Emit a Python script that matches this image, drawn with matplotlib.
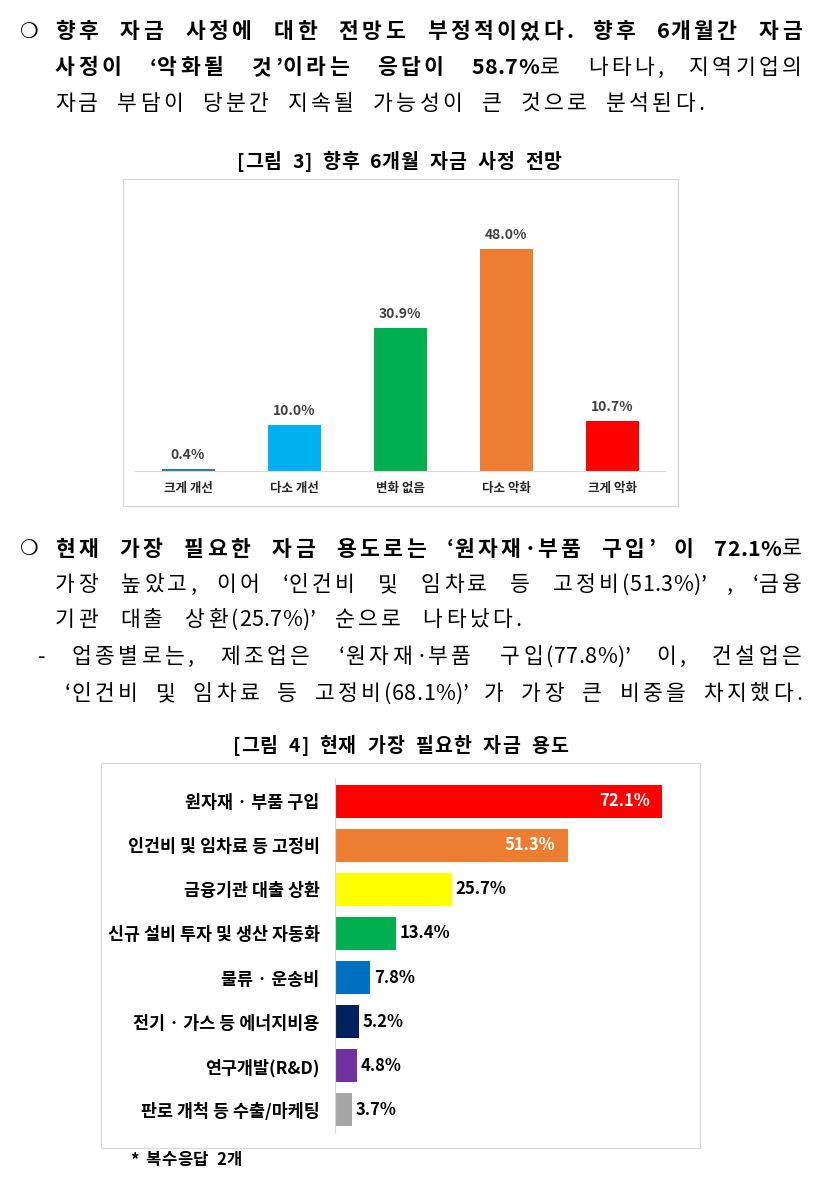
import matplotlib
matplotlib.use('Agg')
import matplotlib.pyplot as plt
from matplotlib.patches import Rectangle

plt.rcParams['font.family'] = ['Noto Sans CJK KR', 'DejaVu Sans']

W, H = 831, 1191

# [그림 3] data
outlook_labels = ['크게 개선', '다소 개선', '변화 없음', '다소 악화', '크게 악화']
outlook_values = [0.4, 10.0, 30.9, 48.0, 10.7]
outlook_colors = ['#2E75B6', '#00B0F0', '#00B050', '#ED7D31', '#FF0000']

# [그림 4] data
use_labels = ['원자재 · 부품 구입', '인건비 및 임차료 등 고정비', '금융기관 대출 상환',
              '신규 설비 투자 및 생산 자동화', '물류 · 운송비', '전기 · 가스 등 에너지비용',
              '연구개발(R&D)', '판로 개척 등 수출/마케팅']
use_values = [72.1, 51.3, 25.7, 13.4, 7.8, 5.2, 4.8, 3.7]
use_colors = ['#FF0000', '#ED7D31', '#FFFF00', '#00B050', '#0070C0', '#002060', '#7030A0', '#A6A6A6']

fig = plt.figure(figsize=(W / 100, H / 100), dpi=100)
renderer = fig.canvas.get_renderer()


def fx(x):
    return x / W


def fy(y):
    return 1 - y / H


def put_line(words, y, x0, x1, size=15.5, track=3.5, track_ascii=0.3):
    # words: list of words, each a list of (text, bold) pieces; spread between x0 and x1
    items = []
    for w in words:
        row = []
        for s, b in w:
            for ch in s:
                t = fig.text(fx(x0), fy(y), ch, fontsize=size, va='center', ha='left',
                             fontweight='bold' if b else 'normal', color='black')
                tr = track if ord(ch) > 0x3000 else track_ascii
                row.append((t, t.get_window_extent(renderer).width + tr))
        items.append(row)
    total = sum(wd for row in items for _, wd in row)
    gap = (x1 - x0 - total) / max(len(items) - 1, 1)
    x = x0
    for row in items:
        for t, wd in row:
            t.set_x(fx(x))
            x += wd
        x += gap


def B(s):
    return [[(w, True)] for w in s.split(' ')]


def N(s):
    return [[(w, False)] for w in s.split(' ')]


# bullets
for yb in [32, 549]:
    fig.text(fx(29), fy(yb), '❍', fontsize=15, ha='center', va='center',
             family=['DejaVu Sans'], fontweight='bold')

# paragraph 1
put_line(B('향후 자금 사정에 대한 전망도 부정적이었다. 향후 6개월간 자금'), 32, 55, 805)
put_line(B('사정이 ‘악화될 것’이라는 응답이') + [[('58.7%', True), ('로', False)]] + N('나타나, 지역기업의'),
         68, 55, 805)
put_line(N('자금 부담이 당분간 지속될 가능성이 큰 것으로 분석된다.'), 104, 55, 705)

# paragraph 2
put_line(B('현재 가장 필요한 자금 용도로는 ‘원자재·부품 구입’ 이') + [[('72.1%', True), ('로', False)]],
         549, 55, 805)
put_line(N('가장 높았고, 이어 ‘인건비 및 임차료 등 고정비(51.3%)’ , ‘금융'), 585, 55, 805)
put_line(N('기관 대출 상환(25.7%)’ 순으로 나타났다.'), 620, 55, 522)
fig.text(fx(42), fy(657), '-', fontsize=15.5, ha='center', va='center')
put_line(N('업종별로는, 제조업은 ‘원자재·부품 구입(77.8%)’ 이, 건설업은'), 657, 72, 805)
put_line(N('‘인건비 및 임차료 등 고정비(68.1%)’ 가 가장 큰 비중을 차지했다.'), 694, 65, 803)

# titles
put_line(B('[그림 3] 향후 6개월 자금 사정 전망'), 162, 237, 563, size=14, track=1)
put_line(B('[그림 4] 현재 가장 필요한 자금 용도'), 746, 233, 569, size=14, track=1)

# chart frames
fig.patches.append(Rectangle((fx(123), fy(506)), fx(678) - fx(123), fy(179) - fy(506),
                             transform=fig.transFigure, fill=False, edgecolor='#D9D9D9', lw=1))
fig.patches.append(Rectangle((fx(101), fy(1148)), fx(700) - fx(101), fy(763) - fy(1148),
                             transform=fig.transFigure, fill=False, edgecolor='#D9D9D9', lw=1))

# chart 3: vertical bars
ax1 = fig.add_axes([fx(135), fy(471), fx(665) - fx(135), fy(200) - fy(471)])
x = range(len(outlook_values))
ax1.bar(x, outlook_values, width=0.5, color=outlook_colors)
ax1.set_xlim(-0.5, 4.5)
ax1.set_ylim(0, 58.5)
for s in ['top', 'right', 'left']:
    ax1.spines[s].set_visible(False)
ax1.spines['bottom'].set_color('#D9D9D9')
ax1.set_yticks([])
ax1.set_xticks(list(x))
ax1.set_xticklabels(outlook_labels, fontsize=9, fontweight='bold', color='#262626')
ax1.tick_params(axis='x', length=0, pad=8)
for xi, v in zip(x, outlook_values):
    ax1.annotate(f'{v:.1f}%', (xi, v), xytext=(0, 5), textcoords='offset points',
                 ha='center', va='bottom', fontsize=10, fontweight='bold', color='#404040')
ax1.patch.set_alpha(0)

# chart 4: horizontal bars
ax2 = fig.add_axes([fx(335), fy(1132), fx(690) - fx(335), fy(779) - fy(1132)])
y = range(len(use_values))
ax2.barh(y, use_values, height=0.75, color=use_colors)
ax2.set_ylim(7.5, -0.5)
ax2.set_xlim(0, 78.3)
for s in ['top', 'right', 'bottom']:
    ax2.spines[s].set_visible(False)
ax2.spines['left'].set_color('#D9D9D9')
ax2.set_xticks([])
ax2.set_yticks(list(y))
ax2.set_yticklabels(use_labels, fontsize=12.5, fontweight='bold', color='black')
ax2.tick_params(axis='y', length=0, pad=11)
for yi, v in zip(y, use_values):
    if v > 40:
        ax2.annotate(f'{v}%', (v, yi), xytext=(-9, 0), textcoords='offset points',
                     ha='right', va='center', fontsize=12, fontweight='bold', color='white')
    else:
        ax2.annotate(f'{v}%', (v, yi), xytext=(3, 0), textcoords='offset points',
                     ha='left', va='center', fontsize=12, fontweight='bold', color='black')
ax2.patch.set_alpha(0)

# footnote
put_line(B('* 복수응답 2개'), 1160, 130, 242, size=12, track=0.5)

fig.savefig('out.png', dpi=100, facecolor='white')
